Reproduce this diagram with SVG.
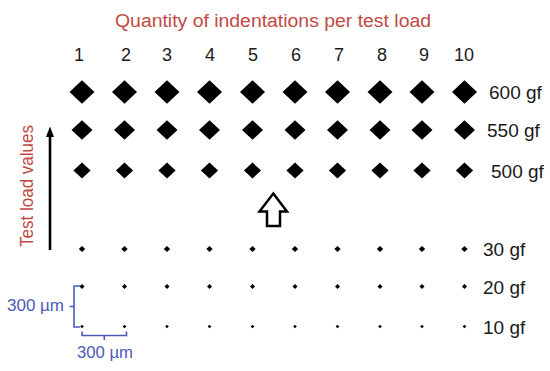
<svg xmlns="http://www.w3.org/2000/svg" width="550" height="371" viewBox="0 0 550 371">
<style>
  text { font-family: "Liberation Sans", Arial, sans-serif; }
  .title { fill: #BF4A45; font-size: 18px; }
  .vlabel { fill: #BF4A45; font-size: 19px; }
  .num { fill: #1a1a1a; font-size: 18px; text-anchor: middle; }
  .lbl { fill: #1a1a1a; font-size: 19px; }
  .dim { fill: #4A5CB8; font-size: 16px; }
  .dimline { fill: none; stroke: #4A5CB8; stroke-width: 1.6; }
  .ind { fill: #000; }
  .hollow { fill: #fff; stroke: #000; stroke-width: 2.5; stroke-linejoin: miter; }
</style>
<defs>
  <path id="d600" d="M-12.5 0L0 -11.8L12.5 0L0 11.8Z"/>
  <path id="d550" d="M-10.5 0L0 -9.8L10.5 0L0 9.8Z"/>
  <path id="d500" d="M-8.6 0L0 -8L8.6 0L0 8Z"/>
  <path id="d30" d="M-3.2 0L0 -3L3.2 0L0 3Z"/>
  <path id="d20" d="M-2.5 0L0 -2.4L2.5 0L0 2.4Z"/>
  <path id="d10" d="M-1.8 0L0 -1.7L1.8 0L0 1.7Z"/>
</defs>
<rect width="550" height="371" fill="#fff"/>

<g id="title">
  <text class="title" x="115" y="27" textLength="316" lengthAdjust="spacingAndGlyphs">Quantity of indentations per test load</text>
</g>

<g id="column-numbers">
  <text class="num" x="79" y="61">1</text>
  <text class="num" x="126" y="61">2</text>
  <text class="num" x="167" y="61">3</text>
  <text class="num" x="210" y="61">4</text>
  <text class="num" x="253" y="61">5</text>
  <text class="num" x="296" y="61">6</text>
  <text class="num" x="339" y="61">7</text>
  <text class="num" x="382" y="61">8</text>
  <text class="num" x="424" y="61">9</text>
  <text class="num" x="464" y="61">10</text>
</g>

<g id="row-600" class="ind">
  <use href="#d600" x="82" y="92"/><use href="#d600" x="124.5" y="92"/><use href="#d600" x="167" y="92"/><use href="#d600" x="209.5" y="92"/><use href="#d600" x="252.5" y="92"/><use href="#d600" x="295" y="92"/><use href="#d600" x="337.5" y="92"/><use href="#d600" x="380" y="92"/><use href="#d600" x="422" y="92"/><use href="#d600" x="464.5" y="92"/>
  <text class="lbl" x="489" y="98.5">600 gf</text>
</g>
<g id="row-550" class="ind">
  <use href="#d550" x="82" y="130"/><use href="#d550" x="124.5" y="130"/><use href="#d550" x="167" y="130"/><use href="#d550" x="209.5" y="130"/><use href="#d550" x="252.5" y="130"/><use href="#d550" x="295" y="130"/><use href="#d550" x="337.5" y="130"/><use href="#d550" x="380" y="130"/><use href="#d550" x="422" y="130"/><use href="#d550" x="464.5" y="130"/>
  <text class="lbl" x="487" y="137">550 gf</text>
</g>
<g id="row-500" class="ind">
  <use href="#d500" x="82" y="170.5"/><use href="#d500" x="124.5" y="170.5"/><use href="#d500" x="167" y="170.5"/><use href="#d500" x="209.5" y="170.5"/><use href="#d500" x="252.5" y="170.5"/><use href="#d500" x="295" y="170.5"/><use href="#d500" x="337.5" y="170.5"/><use href="#d500" x="380" y="170.5"/><use href="#d500" x="422" y="170.5"/><use href="#d500" x="464.5" y="170.5"/>
  <text class="lbl" x="491" y="177.5">500 gf</text>
</g>
<g id="row-30" class="ind">
  <use href="#d30" x="82" y="249"/><use href="#d30" x="124.5" y="249"/><use href="#d30" x="167" y="249"/><use href="#d30" x="209.5" y="249"/><use href="#d30" x="252.5" y="249"/><use href="#d30" x="295" y="249"/><use href="#d30" x="337.5" y="249"/><use href="#d30" x="380" y="249"/><use href="#d30" x="422" y="249"/><use href="#d30" x="464.5" y="249"/>
  <text class="lbl" x="483" y="256">30 gf</text>
</g>
<g id="row-20" class="ind">
  <use href="#d20" x="82" y="286.5"/><use href="#d20" x="124.5" y="286.5"/><use href="#d20" x="167" y="286.5"/><use href="#d20" x="209.5" y="286.5"/><use href="#d20" x="252.5" y="286.5"/><use href="#d20" x="295" y="286.5"/><use href="#d20" x="337.5" y="286.5"/><use href="#d20" x="380" y="286.5"/><use href="#d20" x="422" y="286.5"/><use href="#d20" x="464.5" y="286.5"/>
  <text class="lbl" x="483" y="294">20 gf</text>
</g>
<g id="row-10" class="ind">
  <use href="#d10" x="82" y="326.5"/><use href="#d10" x="124.5" y="326.5"/><use href="#d10" x="167" y="326.5"/><use href="#d10" x="209.5" y="326.5"/><use href="#d10" x="252.5" y="326.5"/><use href="#d10" x="295" y="326.5"/><use href="#d10" x="337.5" y="326.5"/><use href="#d10" x="380" y="326.5"/><use href="#d10" x="422" y="326.5"/><use href="#d10" x="464.5" y="326.5"/>
  <text class="lbl" x="483" y="333.5">10 gf</text>
</g>

<g id="axis-label">
  <text class="vlabel" transform="translate(32.5,247) rotate(-90)" x="0" y="0" textLength="122" lengthAdjust="spacingAndGlyphs">Test load values</text>
</g>

<g id="hollow-arrow">
  <path class="hollow" d="M273.3 193.5L287 211.5L280 211.5L280 226L267 226L267 211.5L259.5 211.5Z"/>
</g>

<g id="scale-vertical">
  <path class="dimline" d="M80 286H74V327H80M74 306.5H69.5"/>
  <text class="dim" x="7" y="310.5" textLength="57" lengthAdjust="spacingAndGlyphs">300 µm</text>
</g>
<g id="scale-horizontal">
  <path class="dimline" d="M82 331.5V335.5H126.5V331.5M104.3 335.5V340"/>
  <text class="dim" x="77" y="358" textLength="56" lengthAdjust="spacingAndGlyphs">300 µm</text>
</g>

<g id="connectors">
  <line x1="50" y1="250" x2="50" y2="134" stroke="#000" stroke-width="2.6"/>
  <path d="M50 126.5L54 137L46 137Z" fill="#000"/>
</g>
</svg>
